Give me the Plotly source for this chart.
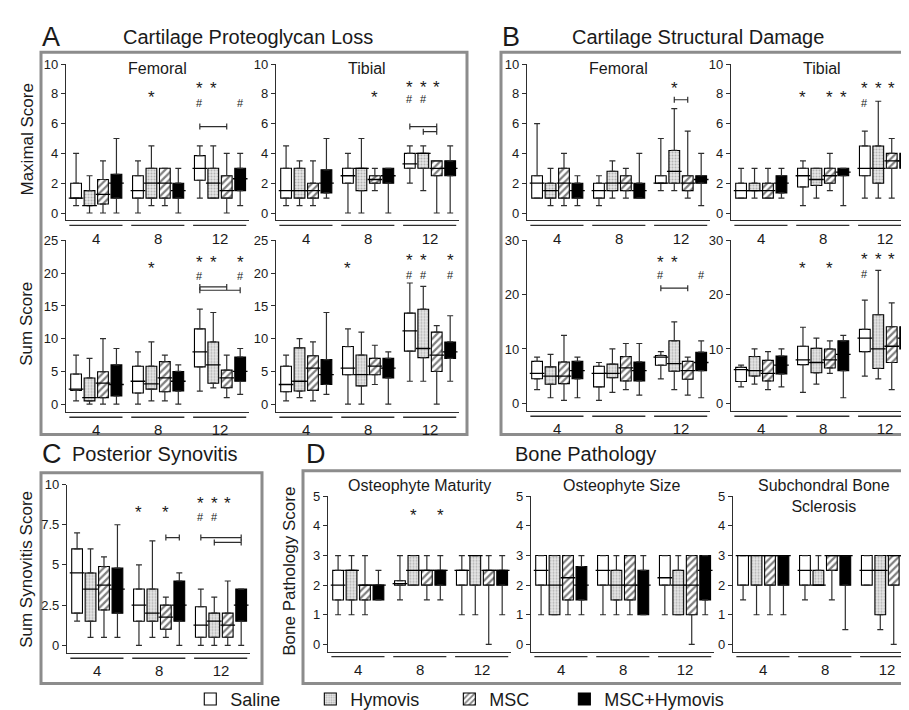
import plotly.graph_objects as go

W, H = 909, 710
FONT = "Arial, 'Liberation Sans', Helvetica, sans-serif"
TXT = "#1a1a1a"
AX = "#2e2e2e"

series_names = ["Saline", "Hymovis", "MSC", "MSC+Hymovis"]
week_labels = ["4", "8", "12"]

# ---- data: 12 values each, ordered week 4 (Saline, Hymovis, MSC, MSC+Hymovis), week 8, week 12 ----
# A: Cartilage proteoglycan loss, femoral maximal score
a_fem_max_low = [0.5, 0, 0, 0, 0, 0.5, 0.5, 0, 1, 1, 0, 0.5]
a_fem_max_q1 = [1, 0.5, 0.6, 1, 1, 1, 1, 1, 2.2, 1, 1, 1.5]
a_fem_max_med = [1, 0.5, 1.25, 2, 1.5, 2, 2, 1.5, 3, 2, 1.5, 2.3]
a_fem_max_q3 = [2, 1.5, 2.25, 2.6, 2.5, 3, 3, 2, 3.85, 3, 2.5, 3]
a_fem_max_high = [4, 2.5, 3.5, 5, 3.5, 4.5, 3, 3, 4.5, 4.5, 4, 4]
# A: tibial maximal score
a_tib_max_low = [0.5, 0.5, 0.5, 1, 0, 0, 1.5, 0, 2, 1.5, 0, 0]
a_tib_max_q1 = [1, 1, 1, 1.35, 2, 1.5, 2, 2, 3, 3, 2.5, 2.5]
a_tib_max_med = [1.5, 1.5, 1.5, 2, 2.5, 3, 2.25, 2.5, 3.3, 4, 3, 3]
a_tib_max_q3 = [3, 3, 2, 2.9, 3, 3, 2.5, 3, 4, 4, 3.5, 3.5]
a_tib_max_high = [4.5, 3.5, 3.5, 5, 4, 5, 3, 3, 4.5, 4.5, 3.5, 4.5]
# A: femoral sum score
a_fem_sum_low = [0.5, 0, 0, 0, 0, 0.5, 0.5, 0, 2, 2.5, 1, 1.5]
a_fem_sum_q1 = [2.1, 0.5, 1, 1.25, 1.7, 2.3, 1.9, 2, 5.7, 3.2, 2.5, 3.5]
a_fem_sum_med = [2.3, 1, 3.2, 3, 3.5, 3.1, 4, 3.5, 8, 6, 4, 5]
a_fem_sum_q3 = [4.6, 4, 4.95, 6, 5.8, 5.8, 6.5, 5, 11.5, 9.5, 5.2, 7.2]
a_fem_sum_high = [7.5, 7, 10, 8.5, 8, 9.5, 7.5, 6, 14.5, 14, 7.5, 8.5]
# A: tibial sum score
a_tib_sum_low = [0.5, 1, 0.5, 1.5, 0, 0, 3, 0, 3.5, 3.5, 0, 3.5]
a_tib_sum_q1 = [1.9, 2, 2.1, 3, 4.5, 2.8, 4.5, 4, 8.1, 7.1, 5, 7]
a_tib_sum_med = [3, 3.5, 5.5, 4.5, 5.5, 4.5, 5.8, 5.5, 11.2, 8.5, 7.5, 8]
a_tib_sum_q3 = [5.8, 8.6, 7.4, 6.8, 8.8, 7.5, 7, 7, 13.9, 14.5, 11, 9.5]
a_tib_sum_high = [7.5, 10, 9.5, 14, 11.5, 11, 9, 8, 18.5, 18, 12, 13.5]
# B: cartilage structural damage, femoral maximal score
b_fem_max_low = [1, 0.5, 0.5, 0.5, 0.5, 1, 1, 1, 1.5, 1.5, 1, 0.5]
b_fem_max_q1 = [1, 1, 1, 1, 1, 1.5, 1.5, 1, 2, 2, 1.5, 2]
b_fem_max_med = [2, 1.5, 2, 1.5, 1.5, 2, 2, 1.5, 2, 2.8, 2, 2.25]
b_fem_max_q3 = [2.5, 2, 3, 2, 2, 2.8, 2.5, 2, 2.5, 4.2, 2.5, 2.5]
b_fem_max_high = [6, 3, 4, 2.5, 2.5, 3.5, 3, 4, 5, 7, 5.5, 4]
# B: tibial maximal score
b_tib_max_low = [1, 1, 1, 1, 0.5, 1, 1.5, 0.5, 1, 1, 1, 0.5]
b_tib_max_q1 = [1, 1.5, 1, 1.35, 1.75, 1.85, 2, 2.5, 2.5, 2, 3, 3]
b_tib_max_med = [1.5, 1.5, 1.5, 2, 2.5, 2.25, 2.5, 2.75, 3, 3, 3.5, 3.5]
b_tib_max_q3 = [2, 2, 2, 2.5, 3, 3, 3, 3, 4.5, 4.5, 4, 4]
b_tib_max_high = [3, 3, 3, 3, 3.5, 3, 4, 3, 5.5, 7.5, 5, 5.5]
# B: femoral sum score
b_fem_sum_low = [2.5, 1, 0.5, 1, 0.5, 2, 2.5, 1.5, 4.5, 2.5, 1.5, 1]
b_fem_sum_q1 = [4.5, 3.5, 3.6, 4.5, 3, 4.7, 4.1, 4.1, 7, 5.9, 4.4, 6]
b_fem_sum_med = [5.5, 5, 5, 6, 5.5, 5.5, 6.5, 6, 8.5, 7.3, 6, 7.5]
b_fem_sum_q3 = [7.7, 6.7, 7.6, 7.7, 6.8, 7.2, 8.6, 7.6, 8.8, 11.5, 7.7, 9.4]
b_fem_sum_high = [8.5, 9, 12.5, 8.5, 7.5, 10, 11, 11, 9.5, 15, 8.5, 11.5]
# B: tibial sum score
b_tib_sum_low = [3, 3.5, 2.5, 3, 2, 3.5, 5.5, 1, 5, 4.5, 2.5, 1]
b_tib_sum_q1 = [4, 5, 4.1, 5.4, 7.1, 5.6, 6.5, 6, 9.5, 6.4, 7.5, 10]
b_tib_sum_med = [6.2, 6, 5.5, 7, 8, 7.5, 8, 9, 12, 10, 10.5, 12]
b_tib_sum_q3 = [6.6, 8.6, 7.9, 8.7, 10.5, 10.1, 10, 11.5, 13.6, 16.3, 14.1, 14.1]
b_tib_sum_high = [7, 10, 9.5, 10, 14, 12, 11.5, 12.5, 19, 24.5, 18.5, 19]
# C: posterior synovitis
c_syn_low = [1.5, 0.5, 0.5, 0.5, 0, 0.5, 0.5, 0, 0, 0, 0, 0]
c_syn_q1 = [2, 1.5, 2.2, 2, 1.5, 1.5, 1, 1.5, 0.5, 0.5, 0.5, 1.5]
c_syn_med = [4.5, 3.5, 3.75, 3.5, 2.5, 2, 1.75, 2.5, 1.25, 1.5, 1.25, 2.5]
c_syn_q3 = [6, 4.5, 4.9, 4.8, 3.5, 3.5, 2.5, 4, 2.4, 2, 2, 3.5]
c_syn_high = [7, 6, 5.5, 7.5, 5, 6.5, 3, 4.5, 3.5, 3, 4, 3.5]
# D: osteophyte maturity
d_mat_low = [1, 1, 1, 1.5, 1.5, 2, 1.5, 1.5, 1, 1, 0, 1]
d_mat_q1 = [1.5, 1.5, 1.5, 1.5, 2, 2, 2, 2, 2, 2, 2, 2]
d_mat_med = [2, 2.5, 2, 2, 2.05, 2.5, 2.5, 2.5, 2.5, 3, 2.5, 2.5]
d_mat_q3 = [2.5, 2.5, 2, 2, 2.15, 3, 2.5, 2.5, 2.5, 3, 2.5, 2.5]
d_mat_high = [3, 3, 3, 2.5, 3, 3, 3, 3, 3, 3, 3, 3]
# D: osteophyte size
d_size_low = [1, 1, 1, 1, 1, 1, 1, 1, 1, 1, 0, 1]
d_size_q1 = [2, 1, 1.5, 1.5, 2, 1.5, 1.5, 1, 2, 1, 1, 1.5]
d_size_med = [2.5, 2, 2.25, 2, 2.5, 2, 2, 2, 2.25, 2, 2, 2.5]
d_size_q3 = [3, 3, 3, 2.63, 3, 2.5, 3, 2.5, 3, 2.5, 3, 3]
d_size_high = [3, 3, 3, 3, 3, 3, 3, 3, 3, 3, 3, 3]
# D: subchondral bone sclerosis
d_scl_low = [1.5, 1, 1, 1, 1.5, 2, 1.5, 0.5, 2, 0.5, 0, 1.5]
d_scl_q1 = [2, 2, 2, 2, 2, 2, 2.5, 2, 2, 1, 2, 2]
d_scl_med = [3, 3, 3, 3, 2.5, 2, 3, 3, 2.5, 2.5, 3, 3]
d_scl_q3 = [3, 3, 3, 3, 3, 2.5, 3, 3, 3, 3, 3, 3]
d_scl_high = [3, 3, 3, 3, 3, 3, 3, 3, 3, 3, 3, 3]

# significance marks: (week index, group index, y value, symbol)
a_fem_max_sig = [(1, 1, 8.0, "*"), (2, 0, 8.6, "*"), (2, 1, 8.6, "*"), (2, 0, 7.4, "#"), (2, 3, 7.4, "#")]
a_tib_max_sig = [(1, 2, 8.0, "*"), (2, 0, 8.67, "*"), (2, 1, 8.67, "*"), (2, 2, 8.67, "*"),
                 (2, 0, 7.63, "#"), (2, 1, 7.63, "#")]
a_fem_sum_sig = [(1, 1, 21.3, "*"), (2, 0, 22.3, "*"), (2, 1, 22.3, "*"), (2, 3, 22.3, "*"),
                 (2, 0, 19.6, "#"), (2, 3, 19.6, "#")]
a_tib_sum_sig = [(1, 0, 21.3, "*"), (2, 0, 22.5, "*"), (2, 1, 22.5, "*"), (2, 3, 22.5, "*"),
                 (2, 0, 19.8, "#"), (2, 1, 19.8, "#"), (2, 3, 19.8, "#")]
b_fem_max_sig = [(2, 1, 8.6, "*")]
b_tib_max_sig = [(1, 0, 8.0, "*"), (1, 2, 8.0, "*"), (1, 3, 8.0, "*"),
                 (2, 0, 8.6, "*"), (2, 1, 8.6, "*"), (2, 2, 8.6, "*"), (2, 3, 8.6, "*"),
                 (2, 0, 7.4, "#"), (2, 3, 7.4, "#")]
b_fem_sum_sig = [(2, 0, 26.7, "*"), (2, 1, 26.7, "*"), (2, 0, 23.6, "#"), (2, 3, 23.6, "#")]
b_tib_sum_sig = [(1, 0, 25.6, "*"), (1, 2, 25.6, "*"),
                 (2, 0, 27.3, "*"), (2, 1, 27.3, "*"), (2, 2, 27.3, "*"), (2, 3, 27.3, "*"),
                 (2, 0, 23.8, "#"), (2, 3, 23.8, "#")]
c_syn_sig = [(1, 0, 8.5, "*"), (1, 2, 8.5, "*"), (2, 0, 9.07, "*"), (2, 1, 9.07, "*"), (2, 2, 9.07, "*"),
             (2, 0, 8.0, "#"), (2, 1, 8.0, "#")]
d_mat_sig = [(1, 1, 4.48, "*"), (1, 3, 4.48, "*")]

# comparison brackets: (week index, from group, to group, y value)
a_fem_max_br = [(2, 0, 2, 5.8)]
a_tib_max_br = [(2, 0, 2, 5.8), (2, 1, 2, 5.46)]
a_fem_sum_br = [(2, 0, 2, 17.9), (2, 0, 3, 17.4)]
b_fem_max_br = [(2, 1, 2, 7.6)]
b_fem_sum_br = [(2, 0, 2, 21.2)]
c_syn_br = [(1, 2, 3, 6.7), (2, 0, 3, 6.7), (2, 1, 3, 6.4)]

# ---- subplot geometry (pixels) ----
def stats(lo, q1, md, q3, hi):
    return dict(low=lo, q1=q1, med=md, q3=q3, high=hi)

t10 = [0, 2, 4, 6, 8, 10]
t25 = [0, 5, 10, 15, 20, 25]
t30 = [0, 10, 20, 30]
tc = [0, 2.5, 5, 7.5, 10]
t5 = [0, 1, 2, 3, 4, 5]

subplots = [
    dict(x0=58, top=50, zero=202, ymax=10, tv=t10, d=stats(a_fem_max_low, a_fem_max_q1, a_fem_max_med, a_fem_max_q3, a_fem_max_high), sig=a_fem_max_sig, br=a_fem_max_br, title="Femoral", ty=55),
    dict(x0=268, top=50, zero=202, ymax=10, tv=t10, d=stats(a_tib_max_low, a_tib_max_q1, a_tib_max_med, a_tib_max_q3, a_tib_max_high), sig=a_tib_max_sig, br=a_tib_max_br, title="Tibial", ty=55),
    dict(x0=58, top=230, zero=397, ymax=25, tv=t25, d=stats(a_fem_sum_low, a_fem_sum_q1, a_fem_sum_med, a_fem_sum_q3, a_fem_sum_high), sig=a_fem_sum_sig, br=a_fem_sum_br),
    dict(x0=268, top=230, zero=397, ymax=25, tv=t25, d=stats(a_tib_sum_low, a_tib_sum_q1, a_tib_sum_med, a_tib_sum_q3, a_tib_sum_high), sig=a_tib_sum_sig, br=[]),
    dict(x0=519, top=50, zero=202, ymax=10, tv=t10, d=stats(b_fem_max_low, b_fem_max_q1, b_fem_max_med, b_fem_max_q3, b_fem_max_high), sig=b_fem_max_sig, br=b_fem_max_br, title="Femoral", ty=55),
    dict(x0=723, top=50, zero=202, ymax=10, tv=t10, d=stats(b_tib_max_low, b_tib_max_q1, b_tib_max_med, b_tib_max_q3, b_tib_max_high), sig=b_tib_max_sig, br=[], title="Tibial", ty=55),
    dict(x0=519, top=230, zero=396, ymax=30, tv=t30, d=stats(b_fem_sum_low, b_fem_sum_q1, b_fem_sum_med, b_fem_sum_q3, b_fem_sum_high), sig=b_fem_sum_sig, br=b_fem_sum_br),
    dict(x0=723, top=230, zero=396, ymax=30, tv=t30, d=stats(b_tib_sum_low, b_tib_sum_q1, b_tib_sum_med, b_tib_sum_q3, b_tib_sum_high), sig=b_tib_sum_sig, br=[]),
    dict(x0=59, top=479, zero=643, ymax=10, tv=tc, d=stats(c_syn_low, c_syn_q1, c_syn_med, c_syn_q3, c_syn_high), sig=c_syn_sig, br=c_syn_br),
    dict(x0=320, top=491, zero=642, ymax=5, tv=t5, d=stats(d_mat_low, d_mat_q1, d_mat_med, d_mat_q3, d_mat_high), sig=d_mat_sig, br=[], title="Osteophyte Maturity", ty=480),
    dict(x0=523, top=491, zero=642, ymax=5, tv=t5, d=stats(d_size_low, d_size_q1, d_size_med, d_size_q3, d_size_high), sig=[], br=[], title="Osteophyte Size", ty=480),
    dict(x0=725, top=491, zero=642, ymax=5, tv=t5, d=stats(d_scl_low, d_scl_q1, d_scl_med, d_scl_q3, d_scl_high), sig=[], br=[], title="Subchondral Bone<br>Sclerosis", ty=491),
]

UNIT = 13.45
XR = [-0.75, 12.85]
XW = (XR[1] - XR[0]) * UNIT
GSTEP = 4.6
BOX_W = 0.8

def xpos(g, k):
    return g * GSTEP + k

def fmt(v):
    return ("%g" % v)

styles = [
    dict(color="white", pattern=dict(shape="")),
    dict(color="#e6e6e6", pattern=dict(shape=".", fgcolor="#808080", size=3, solidity=0.35)),
    dict(color="white", pattern=dict(shape="/", fgcolor="#000000", size=5, solidity=0.45)),
    dict(color="#000000", pattern=dict(shape="")),
]
# legend padding (non-breaking spaces) so that legend entries are spread like the original
legend_pad = [5, 5, 6, 0]

fig = go.Figure()
layout_axes = {}
shapes = []
annotations = []

for i, sp in enumerate(subplots):
    n = i + 1
    xa = "x" if n == 1 else "x%d" % n
    ya = "y" if n == 1 else "y%d" % n
    xk = "xaxis" if n == 1 else "xaxis%d" % n
    yk = "yaxis" if n == 1 else "yaxis%d" % n
    ymax = sp["ymax"]
    ymin = -0.05 * ymax
    bot = sp["zero"] + 0.05 * (sp["zero"] - sp["top"])
    dom_h = bot - sp["top"]
    layout_axes[xk] = dict(
        domain=[sp["x0"] / W, (sp["x0"] + XW) / W], range=XR, anchor=ya,
        showline=True, linecolor=AX, linewidth=1.2, ticks="",
        tickvals=[xpos(g, 1.5) for g in range(3)], ticktext=week_labels,
        tickfont=dict(size=15, color=TXT, family=FONT), ticklabelstandoff=4,
        showgrid=False, zeroline=False, fixedrange=True)
    layout_axes[yk] = dict(
        domain=[1 - bot / H, 1 - sp["top"] / H], range=[ymin, ymax], anchor=xa,
        showline=True, linecolor=AX, linewidth=1.2, ticks="outside", ticklen=4,
        tickcolor=AX, tickwidth=1, tickvals=sp["tv"], ticktext=[fmt(v) for v in sp["tv"]],
        tickfont=dict(size=13, color=TXT, family=FONT),
        showgrid=False, zeroline=False, fixedrange=True)

    d = sp["d"]
    for s in range(4):
        idx = [g * 4 + s for g in range(3)]
        xs = [xpos(g, s) for g in range(3)]
        lo = [d["low"][j] for j in idx]
        q1 = [d["q1"][j] for j in idx]
        md = [d["med"][j] for j in idx]
        q3 = [d["q3"][j] for j in idx]
        hi = [d["high"][j] for j in idx]
        st = styles[s]
        fig.add_trace(go.Bar(
            x=xs, y=[b - a for a, b in zip(q1, q3)], base=q1, width=BOX_W,
            marker=dict(color=st["color"], pattern=st["pattern"], line=dict(color="#000", width=1.1)),
            xaxis=xa, yaxis=ya, name=series_names[s] + "\u00a0" * legend_pad[s],
            legendgroup=series_names[s], showlegend=(i == 0), hoverinfo="skip"))
        fig.add_trace(go.Scatter(
            x=xs, y=q3, mode="markers", marker=dict(size=1, color="rgba(0,0,0,0)"),
            error_y=dict(type="data", symmetric=False, array=[h - q for h, q in zip(hi, q3)],
                         arrayminus=[0, 0, 0], width=3, thickness=1.2, color=AX),
            xaxis=xa, yaxis=ya, showlegend=False, hoverinfo="skip"))
        fig.add_trace(go.Scatter(
            x=xs, y=q1, mode="markers", marker=dict(size=1, color="rgba(0,0,0,0)"),
            error_y=dict(type="data", symmetric=False, array=[0, 0, 0],
                         arrayminus=[q - l for q, l in zip(q1, lo)], width=3, thickness=1.2, color=AX),
            xaxis=xa, yaxis=ya, showlegend=False, hoverinfo="skip"))
        fig.add_trace(go.Scatter(
            x=xs, y=md, mode="markers",
            marker=dict(symbol="line-ew", size=10.5, color="#000", line=dict(width=1.3, color="#000")),
            xaxis=xa, yaxis=ya, showlegend=False, hoverinfo="skip"))

    # brackets
    for (g, a, b, yv) in sp["br"]:
        xa_, xb_ = xpos(g, a), xpos(g, b)
        fig.add_trace(go.Scatter(
            x=[(xa_ + xb_) / 2], y=[yv], mode="markers", marker=dict(size=1, color="rgba(0,0,0,0)"),
            error_x=dict(type="data", array=[(xb_ - xa_) / 2], width=3, thickness=1.2, color=AX),
            xaxis=xa, yaxis=ya, showlegend=False, hoverinfo="skip"))

    # significance marks
    for (g, k, yv, sym) in sp["sig"]:
        star = sym == "*"
        annotations.append(dict(
            x=xpos(g, k), y=yv, xref=xa, yref=ya, text=sym, showarrow=False,
            font=dict(size=17 if star else 11, color=TXT, family=FONT),
            xanchor="center", yanchor="middle", yshift=-4 if star else 0))

    # week group underlines
    for g in range(3):
        xl = (xpos(g, -0.5) - XR[0]) / (XR[1] - XR[0])
        xr = (xpos(g, 3.45) - XR[0]) / (XR[1] - XR[0])
        yy = -5.0 / dom_h
        shapes.append(dict(type="line", xref=xk.replace("axis", "") + " domain",
                           yref=yk.replace("axis", "") + " domain",
                           x0=xl, x1=xr, y0=yy, y1=yy, line=dict(color=AX, width=1.4)))

    if sp.get("title"):
        annotations.append(dict(
            x=(sp["x0"] + XW / 2) / W, y=1 - sp["ty"] / H, xref="paper", yref="paper",
            text=sp["title"], showarrow=False, xanchor="center", yanchor="middle",
            font=dict(size=16, color=TXT, family=FONT)))

# panel frames
frames = [(33, 38, 459, 428), (493, 38, 907, 428), (33, 467, 254, 682), (295, 465, 907, 682)]
for (x0, y0, x1, y1) in frames:
    shapes.append(dict(type="rect", xref="paper", yref="paper",
                       x0=x0 / W, x1=x1 / W, y0=1 - y1 / H, y1=1 - y0 / H,
                       line=dict(color="#8c8c8c", width=3), fillcolor="rgba(0,0,0,0)", layer="below"))

def txt(x, y, text, size, anchor="left", angle=0):
    annotations.append(dict(x=x / W, y=1 - y / H, xref="paper", yref="paper", text=text,
                            showarrow=False, xanchor=anchor, yanchor="middle", textangle=angle,
                            font=dict(size=size, color=TXT, family=FONT)))

txt(32, 22, "A", 27)
txt(240, 22, "Cartilage Proteoglycan Loss", 20, "center")
txt(492, 22, "B", 27)
txt(690, 22, "Cartilage Structural Damage", 20, "center")
txt(32, 448, "C", 27)
txt(62, 448, "Posterior Synovitis", 20)
txt(296, 448, "D", 27)
txt(577, 448, "Bone Pathology", 20, "center")
txt(19, 127, "Maximal Score", 17, "center", -90)
txt(19, 315, "Sum Score", 17, "center", -90)
txt(19, 566, "Sum Synovitis Score", 17, "center", -90)
txt(282, 568, "Bone Pathology Score", 17, "center", -90)

fig.update_layout(
    width=W, height=H, margin=dict(l=0, r=0, t=0, b=0), autosize=False,
    paper_bgcolor="white", plot_bgcolor="white",
    barmode="overlay", font=dict(family=FONT, color=TXT),
    showlegend=True,
    legend=dict(orientation="h", x=0.497, xanchor="center", y=1 - 698 / H, yanchor="middle",
                font=dict(size=18, color=TXT, family=FONT), bgcolor="rgba(0,0,0,0)",
                traceorder="normal"),
    shapes=shapes, annotations=annotations, **layout_axes)

fig.write_html("out.html")
